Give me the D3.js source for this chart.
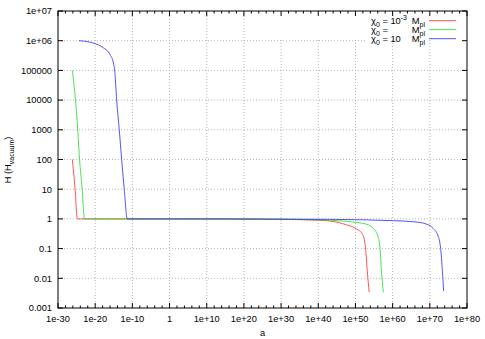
<!DOCTYPE html>
<html>
<head>
<meta charset="utf-8">
<script src="https://cdn.jsdelivr.net/npm/d3@7"></script>
<style>
  body { margin: 0; background: #fff; }
  svg { font-family: "Liberation Sans", Arial, sans-serif; }
</style>
</head>
<body>
<svg id="chart" width="485" height="339"></svg>
<script>
// values, as [log10(a), log10(H)]
const redSeries = [
  [-26.15, 2], [-25.4, 1], [-24.8, 0], [-10, 0], [10, -0.002], [20, -0.006],
  [30, -0.016], [40, -0.045], [43.1, -0.07], [47.6, -0.2], [50.3, -0.34],
  [51.7, -0.48], [52.4, -0.71], [52.8, -1.1], [53.2, -1.78], [53.7, -2.47]
];
const greenSeries = [
  [-26.15, 5], [-25.3, 4], [-24.7, 3], [-24.2, 2], [-23.5, 1], [-22.9, 0],
  [0, 0], [20, -0.004], [30, -0.01], [40, -0.03], [43.1, -0.045], [50.3, -0.12],
  [53.0, -0.18], [54.8, -0.32], [56.1, -0.6], [56.6, -0.99], [57.0, -1.78], [57.5, -2.47]
];
const blueSeries = [
  [-24.35, 6], [-20.5, 5.92], [-17.8, 5.76], [-16.0, 5.53], [-15.1, 5.25],
  [-14.7, 4.92], [-14.22, 4], [-13.52, 3], [-12.88, 2], [-12.18, 1], [-11.37, 0],
  [20, -0.003], [43, -0.015], [60.2, -0.06], [66, -0.1], [69.2, -0.18],
  [70.9, -0.32], [72.3, -0.6], [72.9, -0.99], [73.4, -1.78], [73.7, -2.43]
];
const xTicks = [1e-30, 1e-20, 1e-10, 1, 1e10, 1e20, 1e30, 1e40, 1e50, 1e60, 1e70, 1e80];
const xTickLabels = ["1e-30", "1e-20", "1e-10", "1", "1e+10", "1e+20", "1e+30", "1e+40", "1e+50", "1e+60", "1e+70", "1e+80"];
const yTicks = [1e-3, 1e-2, 0.1, 1, 10, 100, 1000, 1e4, 1e5, 1e6, 1e7];
const yTickLabels = ["0.001", "0.01", "0.1", "1", "10", "100", "1000", "10000", "100000", "1e+06", "1e+07"];
const legendLeft = [["= 10", "-3"], ["=", ""], ["= 10", ""]];
const colors = ["#ff2a2a", "#22dd22", "#2a2aff"];

const svg = d3.select("#chart");
const pLeft = 58, pRight = 467, pTop = 11, pBottom = 308;

const x = d3.scaleLog().domain([1e-30, 1e80]).range([pLeft, pRight]);
const y = d3.scaleLog().domain([1e-3, 1e7]).range([pBottom, pTop]);

// grid
const grid = svg.append("g").attr("stroke", "#b4b4b4").attr("stroke-dasharray", "1,2");
grid.selectAll(".gx").data(xTicks.slice(1, -1)).join("line")
  .attr("x1", d => x(d)).attr("x2", d => x(d))
  .attr("y1", pBottom).attr("y2", d => x(d) > 270 ? 40 : pTop);
grid.selectAll(".gy").data(yTicks.slice(1, -1)).join("line")
  .attr("y1", d => y(d)).attr("y2", d => y(d))
  .attr("x1", pLeft).attr("x2", d => d === 1e6 ? 365 : pRight);

// minor x ticks (every 2 decades)
const minor = [];
for (let e = -28; e < 80; e += 2) if (e % 10 !== 0) minor.push(Math.pow(10, e));

const ticks = svg.append("g").attr("stroke", "#000");
ticks.selectAll(".mb").data(minor).join("line")
  .attr("x1", d => x(d)).attr("x2", d => x(d)).attr("y1", pBottom).attr("y2", pBottom - 2.5);
ticks.selectAll(".mt").data(minor).join("line")
  .attr("x1", d => x(d)).attr("x2", d => x(d)).attr("y1", pTop).attr("y2", pTop + 2.5);
ticks.selectAll(".xb").data(xTicks).join("line")
  .attr("x1", d => x(d)).attr("x2", d => x(d)).attr("y1", pBottom).attr("y2", pBottom - 5);
ticks.selectAll(".xt").data(xTicks).join("line")
  .attr("x1", d => x(d)).attr("x2", d => x(d)).attr("y1", pTop).attr("y2", pTop + 5);
ticks.selectAll(".yl").data(yTicks).join("line")
  .attr("y1", d => y(d)).attr("y2", d => y(d)).attr("x1", pLeft).attr("x2", pLeft + 5);
ticks.selectAll(".yr").data(yTicks).join("line")
  .attr("y1", d => y(d)).attr("y2", d => y(d)).attr("x1", pRight).attr("x2", pRight - 5);

// tick labels
svg.append("g").selectAll("text").data(xTicks).join("text")
  .attr("x", d => x(d)).attr("y", 322).attr("text-anchor", "middle")
  .attr("font-size", 9.3).text((d, i) => xTickLabels[i]);
svg.append("g").selectAll("text").data(yTicks).join("text")
  .attr("x", 52).attr("y", d => y(d) + 3.3).attr("text-anchor", "end")
  .attr("font-size", 9.3).text((d, i) => yTickLabels[i]);

// axis titles
svg.append("text").attr("x", (pLeft + pRight) / 2).attr("y", 336)
  .attr("text-anchor", "middle").attr("font-size", 9.3).text("a");
const yl = svg.append("text").attr("transform", "translate(11,160) rotate(-90)")
  .attr("text-anchor", "middle").attr("font-size", 9.3);
yl.append("tspan").text("H (H");
yl.append("tspan").attr("font-size", 7).attr("dy", 2.5).text("vacuum");
yl.append("tspan").attr("dy", -2.5).text(")");

// curves
const line = d3.line()
  .x(d => x(Math.pow(10, d[0])))
  .y(d => y(Math.pow(10, d[1])))
  .curve(d3.curveMonotoneX);
[redSeries, greenSeries, blueSeries].forEach((s, i) => {
  svg.append("path").datum(s).attr("d", line)
    .attr("fill", "none").attr("stroke", colors[i]).attr("stroke-width", 1).attr("opacity", 0.8);
});

// legend
legendLeft.forEach((p, i) => {
  const ly = 20.7 + i * 9;
  const t = svg.append("text").attr("x", 371).attr("y", ly + 3.3).attr("font-size", 9.3);
  t.append("tspan").text("χ");
  t.append("tspan").attr("font-size", 7).attr("dy", 2.5).text("0");
  t.append("tspan").attr("dy", -2.5).text(" " + p[0]);
  if (p[1]) t.append("tspan").attr("font-size", 7).attr("dy", -4).text(p[1]);
  const m = svg.append("text").attr("x", 425).attr("y", ly + 3.3)
    .attr("text-anchor", "end").attr("font-size", 9.3);
  m.append("tspan").text("M");
  m.append("tspan").attr("font-size", 7).attr("dy", 2.5).text("pl");
  svg.append("line").attr("x1", 429).attr("x2", 456).attr("y1", ly).attr("y2", ly)
    .attr("stroke", colors[i]).attr("opacity", 0.8);
});

// border
svg.append("rect").attr("x", pLeft).attr("y", pTop)
  .attr("width", pRight - pLeft).attr("height", pBottom - pTop)
  .attr("fill", "none").attr("stroke", "#000");
</script>
</body>
</html>
